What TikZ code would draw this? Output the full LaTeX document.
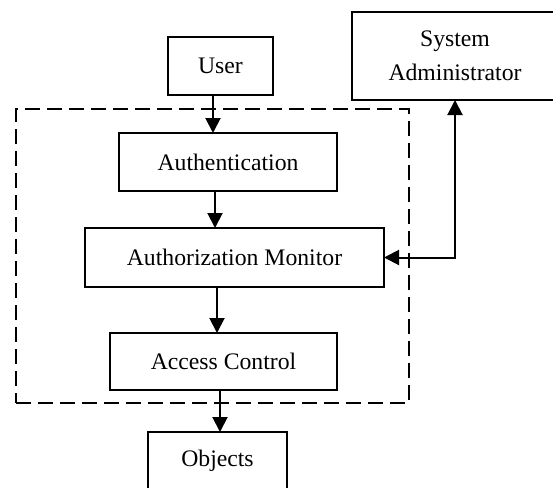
\documentclass[tikz,border=0pt]{standalone}
\usepackage{fontspec}
\setmainfont{Liberation Serif}
\usetikzlibrary{arrows.meta}
\tikzset{
  box/.style={draw, line width=2pt, inner sep=0pt, outer sep=0pt, align=center,
    font=\fontsize{23.7pt}{34pt}\selectfont},
  flow/.style={line width=2pt, -{Triangle[length=15pt,width=15pt]}},
  twoway/.style={line width=2pt, {Triangle[length=15pt,width=15pt]}-{Triangle[length=15pt,width=15pt]}},
  boundary/.style={draw, line width=2pt, dash pattern=on 15pt off 7pt, inner sep=0pt, outer sep=0pt}
}
\begin{document}
\begin{tikzpicture}[x=1pt,y=-1pt]
\useasboundingbox (0,0) rectangle (553,487);
\node[boundary, minimum width=393pt, minimum height=294pt] (tcb) at (212.5,256) {};
\node[box, minimum width=105pt, minimum height=58pt] (user) at (220.5,66) {User};
\node[box, minimum width=206pt, minimum height=88pt] (sa) at (455,56) {System\\Administrator};
\node[box, minimum width=218pt, minimum height=58pt] (auth) at (228,162) {Authentication};
\node[box, minimum width=299pt, minimum height=59pt] (am) at (234.5,257.5) {Authorization Monitor};
\node[box, minimum width=227pt, minimum height=57pt] (ac) at (223.5,361.5) {Access Control};
\node[box, minimum width=139pt, minimum height=58pt] (obj) at (217.5,461) {Objects};
\coordinate (s1) at (213,0);
\coordinate (s2) at (215,0);
\coordinate (s3) at (217,0);
\coordinate (s4) at (220,0);
\draw[flow] (s1 |- user.south) -- (s1 |- auth.north);
\draw[flow] (s2 |- auth.south) -- (s2 |- am.north);
\draw[flow] (s3 |- am.south) -- (s3 |- ac.north);
\draw[flow] (s4 |- ac.south) -- (s4 |- obj.north);
\draw[twoway] (am.east) -- (am.east -| sa.south) -- (sa.south);
\end{tikzpicture}
\end{document}
